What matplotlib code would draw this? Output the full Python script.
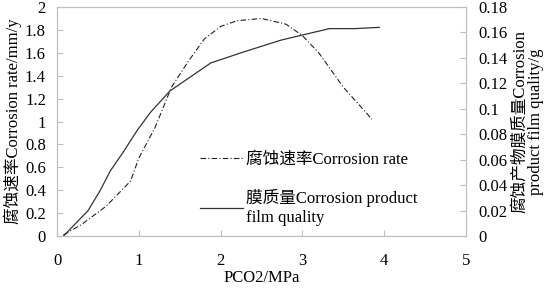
import matplotlib.pyplot as plt
from matplotlib.lines import Line2D

plt.rcParams['font.family'] = ['Liberation Serif', 'Noto Sans CJK SC']

# corrosion rate (left axis, mm/y)
rate_p = [0.08, 0.3, 0.6, 0.9, 1.0, 1.2, 1.4, 1.6, 1.8, 2.0, 2.2, 2.5, 2.8, 3.0, 3.2, 3.5, 3.85]
rate_v = [0.01, 0.1, 0.26, 0.48, 0.68, 0.95, 1.3, 1.52, 1.72, 1.83, 1.88, 1.9, 1.85, 1.75, 1.6, 1.3, 1.02]

# corrosion product film quality (right axis, g)
film_p = [0.08, 0.38, 0.53, 0.65, 0.81, 0.98, 1.14, 1.38, 1.88, 2.25, 2.74, 3.33, 3.64, 3.94]
film_v = [0.0, 0.02, 0.036, 0.051, 0.066, 0.083, 0.097, 0.114, 0.136, 0.144, 0.154, 0.163, 0.163, 0.164]

x_ticks = [0, 1, 2, 3, 4, 5]
left_ticks = [0, 0.2, 0.4, 0.6, 0.8, 1, 1.2, 1.4, 1.6, 1.8, 2]
right_ticks = [0, 0.02, 0.04, 0.06, 0.08, 0.1, 0.12, 0.14, 0.16, 0.18]

grey = '#bfbfbf'
fs = 12

fig = plt.figure(figsize=(5.58, 2.91), dpi=100)
ax = fig.add_axes([57 / 558, 1 - 236 / 291, 409 / 558, 229 / 291])
ax2 = ax.twinx()

ax.plot(rate_p, rate_v, color='#222222', lw=0.8, linestyle=(0, (5, 2, 1, 2)))
ax2.plot(film_p, film_v, color='#333333', lw=0.9)

ax.set_xlim(0, 5)
ax.set_ylim(0, 2)
ax2.set_ylim(0, 0.18)
ax.set_xticks(x_ticks)
ax.set_xticklabels([str(t) for t in x_ticks])
ax.set_yticks(left_ticks)
ax.set_yticklabels([f'{t:g}' for t in left_ticks])
ax2.set_yticks(right_ticks)
ax2.set_yticklabels([f'{t:g}' for t in right_ticks])

for a in (ax, ax2):
    for s in a.spines.values():
        s.set_color(grey)
        s.set_linewidth(0.8)
    a.tick_params(direction='in', length=4, color=grey, labelsize=fs)
ax.tick_params(axis='x', pad=12)
ax.tick_params(axis='y', pad=8)
ax2.tick_params(axis='y', pad=9)

ax.set_xlabel('PCO2/MPa', fontsize=fs, labelpad=1)
ax.set_ylabel('腐蚀速率Corrosion rate/mm/y', fontsize=fs, labelpad=2)
ax2.set_ylabel('腐蚀产物膜质量Corrosion\nproduct film quality/g', fontsize=fs,
               labelpad=3, linespacing=1.0)

handles = [Line2D([], [], color='#222222', lw=0.8, linestyle=(0, (5, 2, 1, 2))),
           Line2D([], [], color='#333333', lw=0.9)]
labels = ['腐蚀速率Corrosion rate', '膜质量Corrosion product\nfilm quality']
ax.legend(handles, labels, loc='upper left', bbox_to_anchor=(0.32, 0.42),
          frameon=False, fontsize=fs, handlelength=2.6, labelspacing=1.3,
          handletextpad=0.2, borderpad=0.2)

fig.savefig('out.png', dpi=100)
